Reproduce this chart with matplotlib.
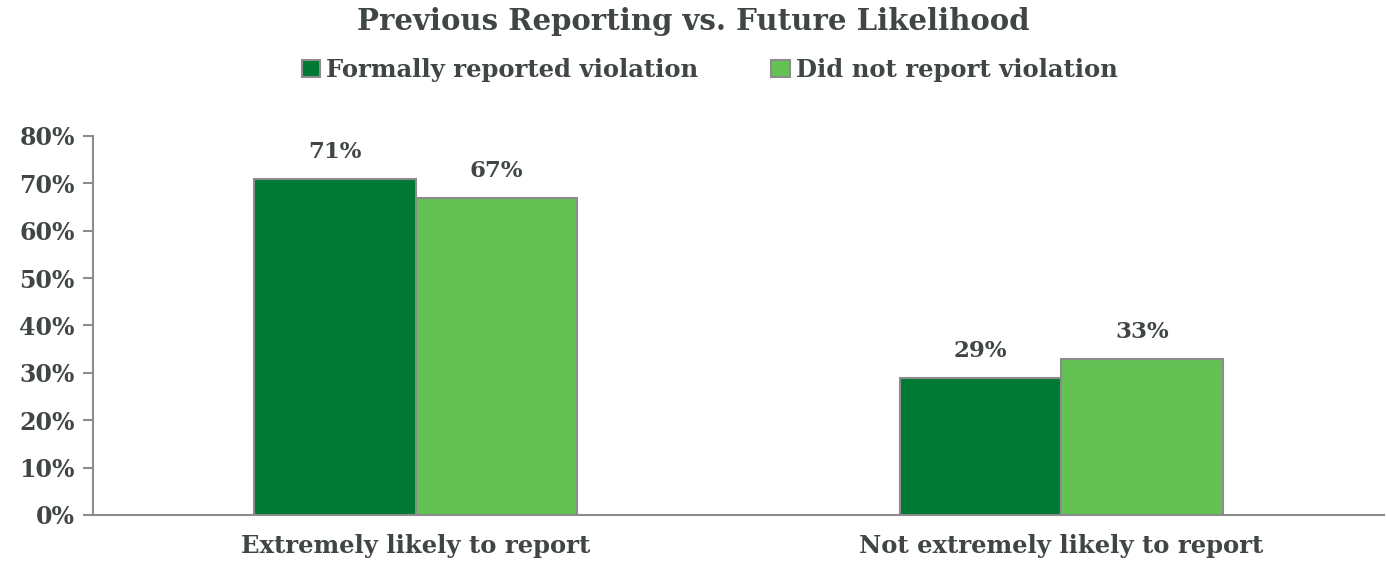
import numpy as np
import matplotlib.pyplot as plt
from matplotlib.ticker import PercentFormatter

categories = ['Extremely likely to report', 'Not extremely likely to report']
series_names = ['Formally reported violation', 'Did not report violation']
formally_reported = [71, 29]
did_not_report = [67, 33]
yticks = [0, 10, 20, 30, 40, 50, 60, 70, 80]

text_color = '#404545'
colors = ['#007935', '#63c253']
edge = '#8c8c8c'

plt.rcParams['font.family'] = ['DejaVu Serif']
plt.rcParams['font.weight'] = 'bold'

fig = plt.figure(figsize=(13.86, 5.64), dpi=100)
ax = fig.add_axes([0.0671, 0.0869, 0.9315, 0.672])

x = np.arange(len(categories))
w = 0.25
bars = []
for i, vals in enumerate([formally_reported, did_not_report]):
    b = ax.bar(x + (i - 0.5) * w, vals, w, color=colors[i], edgecolor=edge,
               linewidth=1.5, label=series_names[i], zorder=3)
    bars.append(b)
    for rect, v in zip(b, vals):
        ax.annotate(f'{v}%', (rect.get_x() + rect.get_width() / 2, v),
                    xytext=(0, 11), textcoords='offset points', ha='center',
                    va='bottom', fontsize=16.5, fontweight='bold', color=text_color)

ax.set_xlim(-0.5, 1.5)
ax.set_ylim(0, 80)
ax.set_yticks(yticks)
ax.yaxis.set_major_formatter(PercentFormatter(decimals=0))
ax.set_xticks(x)
ax.set_xticklabels(categories)

for s in ['top', 'right']:
    ax.spines[s].set_visible(False)
for s in ['left', 'bottom']:
    ax.spines[s].set_color(edge)
    ax.spines[s].set_linewidth(1.5)

ax.tick_params(axis='y', colors=edge, length=7, width=1.5, labelsize=17,
               labelcolor=text_color, pad=6)
ax.tick_params(axis='x', length=0, labelsize=17.5, labelcolor=text_color, pad=14)
for lbl in ax.get_xticklabels() + ax.get_yticklabels():
    lbl.set_fontweight('bold')

fig.text(0.5, 0.962, 'Previous Reporting vs. Future Likelihood', ha='center',
         va='center', fontsize=21, fontweight='bold', color=text_color)

fig.legend(handles=bars, labels=series_names, loc='center', ncol=2,
           bbox_to_anchor=(0.512, 0.876), frameon=False,
           handlelength=0.75, handleheight=0.75, handletextpad=0.25,
           columnspacing=3.0, labelcolor=text_color,
           prop={'weight': 'bold', 'size': 17.5})

fig.savefig('out.png', dpi=100)
